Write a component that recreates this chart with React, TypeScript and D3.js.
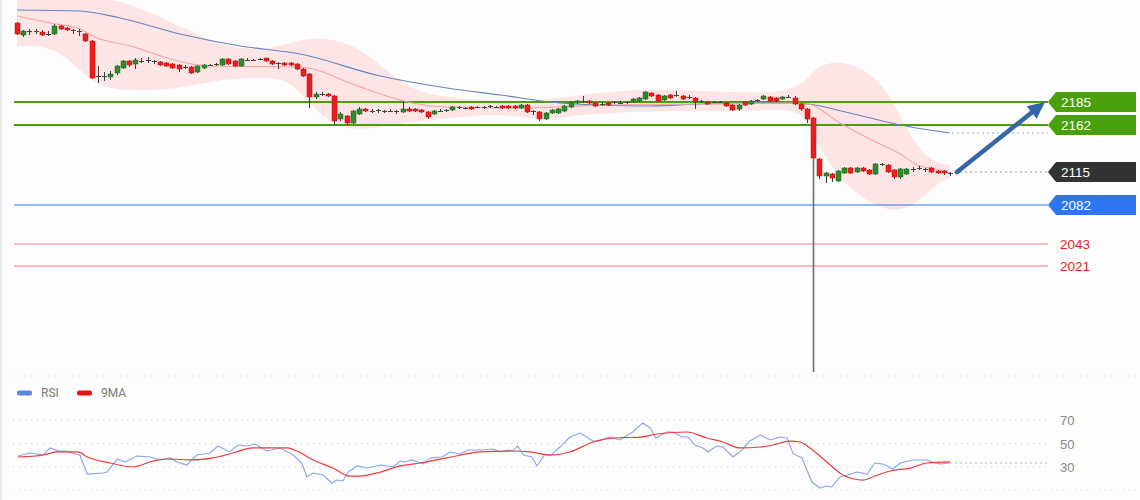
import React, { useEffect, useRef } from 'react';
import * as d3 from 'd3';

const W = 1140;
const H = 500;

// [open, high, low, close] per bar
const candles: [number, number, number, number][] = [
  [2264, 2265, 2252, 2253], [2252, 2257, 2250, 2256], [2255, 2258, 2252, 2256], [2256, 2258, 2253, 2255],
  [2255, 2257, 2251, 2252], [2253, 2256, 2251, 2253], [2253, 2263, 2252, 2261], [2261, 2262, 2257, 2258],
  [2259, 2260, 2256, 2257], [2257, 2258, 2253, 2256], [2256, 2258, 2251, 2255], [2253, 2254, 2245, 2246],
  [2246, 2247, 2208, 2209], [2210, 2221, 2204, 2211], [2211, 2215, 2206, 2211], [2210, 2216, 2207, 2213],
  [2214, 2222, 2212, 2221], [2219, 2227, 2218, 2226], [2226, 2227, 2220, 2222], [2223, 2229, 2218, 2227],
  [2226, 2229, 2224, 2226], [2226, 2230, 2224, 2227], [2226, 2227, 2223, 2225], [2225, 2226, 2221, 2222],
  [2224, 2225, 2220, 2221], [2223, 2224, 2218, 2219], [2222, 2223, 2215, 2218], [2220, 2222, 2218, 2219],
  [2220, 2221, 2213, 2214], [2215, 2222, 2214, 2221], [2219, 2223, 2218, 2222], [2222, 2223, 2221, 2222],
  [2222, 2224, 2221, 2223], [2222, 2229, 2221, 2228], [2228, 2229, 2222, 2223], [2226, 2227, 2220, 2221],
  [2221, 2229, 2220, 2228], [2227, 2229, 2226, 2227], [2227, 2228, 2226, 2227], [2227, 2229, 2227, 2228],
  [2229, 2229, 2225, 2226], [2226, 2227, 2222, 2223], [2224, 2225, 2218, 2224], [2224, 2225, 2221, 2222],
  [2224, 2225, 2221, 2222], [2223, 2224, 2217, 2218], [2218, 2219, 2210, 2211], [2213, 2214, 2179, 2190],
  [2190, 2195, 2188, 2193], [2193, 2195, 2191, 2193], [2193, 2194, 2190, 2191], [2191, 2192, 2162, 2166],
  [2168, 2175, 2166, 2173], [2171, 2172, 2162, 2164], [2164, 2177, 2163, 2176], [2173, 2180, 2172, 2178],
  [2178, 2179, 2175, 2176], [2176, 2178, 2174, 2176], [2176, 2178, 2174, 2177], [2176, 2177, 2174, 2176],
  [2176, 2178, 2175, 2176], [2176, 2177, 2173, 2175], [2175, 2186, 2174, 2178], [2178, 2180, 2175, 2176],
  [2178, 2179, 2175, 2176], [2177, 2178, 2174, 2175], [2175, 2176, 2168, 2170], [2173, 2177, 2172, 2176],
  [2176, 2178, 2175, 2176], [2176, 2178, 2175, 2177], [2177, 2181, 2176, 2180], [2180, 2181, 2178, 2179],
  [2179, 2180, 2178, 2179], [2180, 2181, 2177, 2178], [2180, 2181, 2179, 2180], [2180, 2181, 2178, 2180],
  [2181, 2182, 2179, 2180], [2180, 2181, 2179, 2180], [2181, 2182, 2178, 2179], [2181, 2182, 2178, 2179],
  [2181, 2182, 2178, 2179], [2179, 2183, 2178, 2182], [2182, 2183, 2174, 2175], [2176, 2177, 2172, 2175],
  [2175, 2176, 2166, 2168], [2168, 2175, 2167, 2174], [2174, 2178, 2173, 2177], [2174, 2179, 2173, 2178],
  [2176, 2182, 2175, 2181], [2180, 2186, 2179, 2185], [2184, 2187, 2183, 2186], [2186, 2191, 2184, 2186],
  [2186, 2187, 2183, 2184], [2184, 2185, 2180, 2181], [2183, 2185, 2181, 2183], [2184, 2185, 2181, 2182],
  [2184, 2186, 2183, 2185], [2184, 2186, 2183, 2184], [2185, 2186, 2183, 2185], [2185, 2189, 2184, 2188],
  [2186, 2190, 2185, 2189], [2188, 2196, 2187, 2195], [2194, 2195, 2190, 2191], [2192, 2193, 2185, 2186],
  [2187, 2192, 2186, 2191], [2192, 2193, 2188, 2189], [2192, 2196, 2190, 2192], [2191, 2192, 2187, 2188],
  [2190, 2192, 2188, 2190], [2189, 2190, 2178, 2185], [2186, 2187, 2184, 2186], [2185, 2186, 2182, 2183],
  [2185, 2186, 2184, 2185], [2185, 2186, 2184, 2185], [2184, 2185, 2180, 2181], [2182, 2183, 2176, 2177],
  [2178, 2183, 2176, 2182], [2185, 2186, 2181, 2182], [2183, 2187, 2182, 2186], [2187, 2188, 2185, 2187],
  [2188, 2192, 2187, 2191], [2190, 2191, 2185, 2186], [2189, 2190, 2185, 2186], [2188, 2191, 2187, 2190],
  [2190, 2192, 2189, 2190], [2189, 2191, 2182, 2183], [2183, 2184, 2176, 2178], [2178, 2179, 2164, 2168],
  [2169, 2170, 1915, 2129], [2128, 2129, 2108, 2111], [2111, 2115, 2104, 2114], [2113, 2114, 2105, 2109],
  [2106, 2117, 2105, 2116], [2114, 2120, 2113, 2119], [2119, 2120, 2113, 2114], [2115, 2120, 2114, 2119],
  [2119, 2120, 2115, 2116], [2117, 2118, 2112, 2113], [2113, 2124, 2112, 2123], [2123, 2124, 2121, 2123],
  [2122, 2123, 2114, 2115], [2117, 2118, 2108, 2110], [2110, 2119, 2108, 2118], [2113, 2119, 2112, 2118],
  [2117, 2120, 2115, 2118], [2119, 2121, 2117, 2119], [2118, 2119, 2115, 2117], [2119, 2120, 2114, 2115],
  [2116, 2117, 2113, 2114], [2116, 2117, 2112, 2114], [2114, 2115, 2111, 2114],
];

// Bollinger envelope, sampled at bar positions
const bbIndex = [0, 7, 12, 18, 26, 33, 39, 44, 47, 52, 57, 62, 68, 78, 84, 90, 100, 110, 119, 124, 127, 129, 134, 139, 142, 145, 148, 150];
const bbUpper = [2292, 2292, 2290, 2285, 2261, 2241, 2236, 2244, 2249, 2248, 2231, 2201, 2189, 2186, 2186, 2192, 2198, 2196, 2194, 2196, 2206, 2224, 2226, 2206, 2171, 2136, 2123, 2122];
const bbLower = [2241, 2241, 2201, 2196, 2198, 2208, 2210, 2208, 2181, 2158, 2158, 2164, 2168, 2174, 2166, 2172, 2176, 2176, 2176, 2178, 2171, 2136, 2096, 2078, 2076, 2086, 2104, 2109];

// moving averages, sampled at bar positions
const maFastIndex = [0, 5.3, 10.1, 12.5, 18.2, 27.3, 31, 45.5, 48.7, 53.5, 58.4, 65.3, 69.6, 80.9, 87.3, 93.7, 109.8, 124.3, 127.2, 132.3, 137.1, 142, 144.7, 147.6, 150];
const maFast = [2271, 2264, 2258, 2250, 2241, 2224, 2221, 2220, 2216, 2204, 2193, 2182, 2180, 2179, 2180, 2182, 2183, 2184, 2183, 2164, 2148, 2133, 2122, 2118, 2114];
const maSlowIndex = [0, 10.1, 16.6, 26.2, 35.9, 45.5, 58.4, 69.1, 77.7, 87.3, 93.7, 101.8, 109.8, 117.8, 124.3, 127.2, 133.9, 142, 150];
const maSlow = [2277, 2276, 2269, 2253, 2241, 2233, 2211, 2199, 2192, 2184, 2182, 2181, 2183, 2184, 2184, 2183, 2174, 2162, 2154];

const levelValues = [2185, 2162, 2115, 2082, 2043, 2021];
const levelKinds = ['resistance', 'resistance', 'last', 'support', 'target', 'target'];

// RSI panel
const rsiIndex = [0.2, 2.1, 4.2, 5.3, 6.6, 8, 8.8, 10.1, 11.3, 13.8, 14.5, 16.1, 17.4, 19.3, 21.4, 23, 24.6, 25.7, 27.3, 28.9,
  31, 32.3, 34.2, 35.5, 37, 38.3, 40.2, 42.3, 44.4, 45.8, 46.6, 47.6, 49.2, 50.6, 51.4, 52.4, 53.2, 54.7, 56.3, 58.4,
  60.5, 61.6, 62.4, 63.5, 65.3, 66.4, 68.3, 69.6, 71.2, 72.5, 74.4, 76.5, 77.7, 78.8, 79.7, 80.5, 81.4, 82.8, 83.6, 84.9,
  85.7, 87.3, 88.9, 90.5, 92.6, 93.7, 95.3, 96.9, 99, 100.6, 101.8, 102.7, 104.5, 105.5, 106.9, 107.9, 109, 110.3, 111.1, 112.5,
  113.5, 115.1, 116.6, 117.8, 119.5, 121.1, 122.7, 123.8, 124.8, 126.2, 127.8, 129.1, 130.2, 131, 132.3, 133.6, 135, 136.7, 137.9, 139.2,
  140.8, 142, 144.1, 146.3, 147.1, 148.4, 150];
const rsiValues = [39.4, 41.9, 40.2, 46.2, 43.6, 43.6, 41.9, 40.2, 24, 24.9, 25.7, 36.8, 34.3, 39.4, 38.5, 36, 37.7, 34.3, 31.7, 40.2,
  41.9, 47.9, 42.8, 48.7, 47.9, 49.6, 43.6, 46.2, 40.2, 33.4, 21.5, 24.9, 23.2, 16.4, 18.9, 18.1, 25.7, 30.9, 29.1, 31.7,
  30, 35.1, 34.3, 36, 32.6, 37.7, 38.5, 42.8, 41.1, 44.5, 44.5, 45.3, 42.8, 44.5, 43.6, 47.9, 40.2, 38.5, 30.9, 41.1,
  39.4, 47, 55.5, 58.9, 52.1, 52.1, 55.5, 53, 59.8, 67.4, 63.2, 54.7, 59.8, 59.8, 55.5, 55.5, 48.7, 46.2, 42.8, 47.9,
  47, 38.5, 44.5, 52.1, 57.2, 53, 55.5, 54.7, 41.1, 37.7, 17.2, 12.1, 13.8, 13, 21.5, 23.2, 25.7, 24, 33.4, 32.6,
  28.3, 33.4, 36, 36, 34.3, 32.6, 33.4];
const rsiMaIndex = [0.2, 4.2, 6.4, 9.8, 11.3, 15, 18.6, 21.9, 24.1, 28.3, 31.5, 34.7, 37.9, 43.4, 45, 47.6, 50.8, 53.5, 55.1, 58.4,
  61.6, 64.8, 69.1, 74.4, 79.7, 82.5, 85.7, 88.9, 92.6, 95.8, 100.2, 102.9, 107.7, 110.9, 113.5, 116.2, 119.5, 121.5, 124.3, 125.9,
  127.5, 130.2, 132.8, 136, 137.9, 140.4, 143.6, 146.3, 150];
const rsiMaValues = [38.5, 40.2, 42.8, 42.8, 38.5, 33.4, 30, 35.1, 36.8, 36, 37.7, 41.9, 46.2, 46.2, 43.6, 36, 29.1, 22.3, 22.3, 25.7,
  30.9, 33.4, 37.7, 42.8, 43.6, 42.8, 40.2, 42.8, 51.3, 54.7, 55.5, 58.1, 59.8, 54.7, 51.3, 46.2, 47, 48.7, 52.1, 51.3,
  46.2, 34.3, 23.2, 18.9, 22.3, 26.6, 29.1, 33.4, 34.3];
const rsiTicks = [70, 50, 30];

const FONT = "'Liberation Sans', Arial, sans-serif";

export default function App() {
  const svgRef = useRef<SVGSVGElement | null>(null);

  useEffect(() => {
    if (!svgRef.current) return;
    document.body.style.margin = '0';

    const svg = d3.select(svgRef.current);
    svg.selectAll('*').remove();

    const x = d3.scaleLinear().domain([0, candles.length - 1]).range([17, 950]);
    const y = d3.scaleLinear().domain([2185, 2082]).range([102, 205]);
    const yr = d3.scaleLinear().domain([70, 30]).range([420, 467]);

    const lineLeft = 14;
    const lineRight = 1048;

    svg.append('rect').attr('width', W).attr('height', H).attr('fill', '#fcfdfc');
    svg.append('line').attr('x1', 1).attr('x2', 1).attr('y1', 0).attr('y2', H)
      .attr('stroke', '#e3e6ea').attr('stroke-width', 1.5);

    const defs = svg.append('defs');
    defs.append('clipPath').attr('id', 'priceClip')
      .append('rect').attr('x', 0).attr('y', 0).attr('width', W).attr('height', 374);

    // bollinger band
    const band = d3.area<number>()
      .x(i => x(bbIndex[i]))
      .y0(i => y(bbLower[i]))
      .y1(i => y(bbUpper[i]))
      .curve(d3.curveBasis);
    svg.append('path')
      .attr('clip-path', 'url(#priceClip)')
      .attr('d', band(d3.range(bbIndex.length)))
      .attr('fill', '#fde1e1')
      .attr('opacity', 0.85);

    // horizontal levels
    const levelColor: Record<string, string> = {
      resistance: '#4a9e0c', last: '#333333', support: '#2f74f2', target: '#f7a5a5',
    };
    levelValues.forEach((v, i) => {
      const kind = levelKinds[i];
      const yy = y(v);
      if (kind === 'last') {
        svg.append('line').attr('x1', x(candles.length - 1) + 5).attr('x2', lineRight)
          .attr('y1', yy).attr('y2', yy)
          .attr('stroke', '#9a9a9a').attr('stroke-width', 1).attr('stroke-dasharray', '2,3');
      } else {
        svg.append('line').attr('x1', lineLeft).attr('x2', lineRight)
          .attr('y1', yy).attr('y2', yy)
          .attr('stroke', levelColor[kind])
          .attr('stroke-width', kind === 'resistance' ? 2.2 : kind === 'target' ? 1.5 : 1.2);
      }
    });

    // moving averages
    const maLine = (idx: number[]) => d3.line<number>()
      .x(i => x(idx[i]))
      .curve(d3.curveMonotoneX);
    svg.append('path')
      .attr('d', maLine(maSlowIndex).y(i => y(maSlow[i]))(d3.range(maSlow.length)))
      .attr('fill', 'none').attr('stroke', '#6384c4').attr('stroke-width', 1.1);
    svg.append('path')
      .attr('d', maLine(maFastIndex).y(i => y(maFast[i]))(d3.range(maFast.length)))
      .attr('fill', 'none').attr('stroke', '#f4a2a2').attr('stroke-width', 1.1);
    svg.append('line')
      .attr('x1', x(maSlowIndex[maSlowIndex.length - 1]) + 2).attr('x2', lineRight)
      .attr('y1', y(maSlow[maSlow.length - 1])).attr('y2', y(maSlow[maSlow.length - 1]))
      .attr('stroke', '#8ea8dc').attr('stroke-width', 1).attr('stroke-dasharray', '2,3');

    // candles
    const bw = 4;
    const cg = svg.append('g');
    candles.forEach(([o, h, l, c], i) => {
      const cx = Math.round(x(i)) + 0.5;
      const up = c >= o;
      const isSpike = l < 2050;
      cg.append('line')
        .attr('x1', cx).attr('x2', cx)
        .attr('y1', y(h)).attr('y2', isSpike ? y(Math.min(o, c)) : y(l))
        .attr('stroke', '#3a3a3a').attr('stroke-width', 1);
      if (isSpike) {
        cg.append('line')
          .attr('x1', cx).attr('x2', cx)
          .attr('y1', y(Math.min(o, c))).attr('y2', y(l))
          .attr('stroke', '#6e6e6e').attr('stroke-width', 1.6);
      }
      const top = y(Math.max(o, c));
      const hgt = Math.max(1, Math.abs(y(o) - y(c)));
      cg.append('rect')
        .attr('x', cx - bw / 2 - 0.5).attr('y', top)
        .attr('width', bw + 1).attr('height', hgt)
        .attr('fill', hgt <= 1.5 ? '#444' : up ? '#2f8a2c' : '#ee1c1c')
        .attr('stroke', hgt <= 1.5 ? 'none' : up ? '#1e6a1e' : '#c01010')
        .attr('stroke-width', 0.5);
    });

    // level labels
    levelValues.forEach((v, i) => {
      const kind = levelKinds[i];
      const yy = y(v);
      if (kind === 'target') {
        svg.append('text').attr('x', 1060).attr('y', yy + 5)
          .attr('font-family', FONT).attr('font-size', 13.5)
          .attr('fill', '#f41c1c').text(String(v));
        return;
      }
      const fill = kind === 'resistance' ? '#4aa00a' : kind === 'last' ? '#333333' : '#2f74f2';
      const p = d3.path();
      p.moveTo(1048, yy);
      p.lineTo(1056, yy - 10);
      p.lineTo(1136, yy - 10);
      p.lineTo(1136, yy + 10);
      p.lineTo(1056, yy + 10);
      p.closePath();
      svg.append('path').attr('d', p.toString()).attr('fill', fill);
      svg.append('text').attr('x', 1061).attr('y', yy + 5)
        .attr('font-family', FONT).attr('font-size', 13.5)
        .attr('fill', '#ffffff').text(String(v));
    });

    // projection arrow
    const ax0 = x(candles.length - 1) + 7;
    const ay0 = y(levelValues[2]);
    const ax1 = 1045;
    const ay1 = y(levelValues[0]);
    const ang = Math.atan2(ay1 - ay0, ax1 - ax0);
    const headLen = 17;
    const headW = 8;
    const bx = ax1 - headLen * Math.cos(ang);
    const by = ay1 - headLen * Math.sin(ang);
    svg.append('line').attr('x1', ax0).attr('y1', ay0).attr('x2', bx).attr('y2', by)
      .attr('stroke', '#3566a6').attr('stroke-width', 4.5).attr('stroke-linecap', 'round');
    const head = d3.path();
    head.moveTo(ax1, ay1);
    head.lineTo(bx + headW * Math.sin(ang), by - headW * Math.cos(ang));
    head.lineTo(bx - headW * Math.sin(ang), by + headW * Math.cos(ang));
    head.closePath();
    svg.append('path').attr('d', head.toString()).attr('fill', '#3566a6');

    // RSI panel
    [376, 490].forEach(yy => {
      svg.append('line').attr('x1', 13).attr('x2', W).attr('y1', yy).attr('y2', yy)
        .attr('stroke', '#f2c4c4').attr('stroke-width', 1).attr('stroke-dasharray', '1,5');
    });
    rsiTicks.forEach(t => {
      svg.append('line').attr('x1', 13).attr('x2', 1047).attr('y1', yr(t)).attr('y2', yr(t))
        .attr('stroke', '#c4c8d2').attr('stroke-width', 1).attr('stroke-dasharray', '1,5');
      svg.append('text').attr('x', 1060).attr('y', yr(t) + 5)
        .attr('font-family', FONT).attr('font-size', 13)
        .attr('fill', '#888888').text(String(t));
    });
    svg.append('line')
      .attr('x1', x(rsiIndex[rsiIndex.length - 1])).attr('x2', 1047)
      .attr('y1', yr(rsiValues[rsiValues.length - 1])).attr('y2', yr(rsiValues[rsiValues.length - 1]))
      .attr('stroke', '#a6b9ee').attr('stroke-width', 1).attr('stroke-dasharray', '2,3');

    svg.append('path')
      .attr('d', d3.line<number>().x(i => x(rsiIndex[i])).y(i => yr(rsiValues[i]))(d3.range(rsiValues.length)))
      .attr('fill', 'none').attr('stroke', '#87a3ef').attr('stroke-width', 1.1);
    svg.append('path')
      .attr('d', d3.line<number>().x(i => x(rsiMaIndex[i])).y(i => yr(rsiMaValues[i]))
        .curve(d3.curveMonotoneX)(d3.range(rsiMaValues.length)))
      .attr('fill', 'none').attr('stroke', '#f03a3a').attr('stroke-width', 1.2);

    // legend
    const legend = [{ label: 'RSI', color: '#5d86e6', x: 17 }, { label: '9MA', color: '#ee1111', x: 77 }];
    legend.forEach(d => {
      svg.append('rect').attr('x', d.x).attr('y', 390.5).attr('width', 15).attr('height', 5)
        .attr('rx', 2).attr('fill', d.color);
      svg.append('text').attr('x', d.x + 24).attr('y', 397)
        .attr('font-family', 'Roboto, Arial, sans-serif').attr('font-size', 12)
        .attr('fill', '#7a7a7a').text(d.label);
    });
  }, []);

  return <svg ref={svgRef} width={W} height={H} style={{ display: 'block' }} />;
}
